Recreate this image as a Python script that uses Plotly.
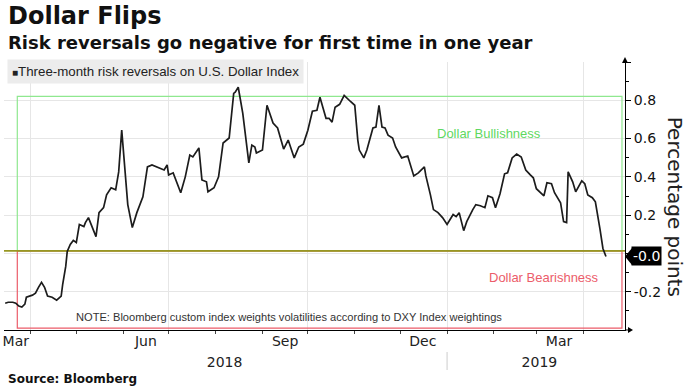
import plotly.graph_objects as go

# ---------------- data ----------------
dates = [
    "2018-03-15", "2018-03-17", "2018-03-20", "2018-03-22", "2018-03-24", "2018-03-26", "2018-03-28", "2018-03-29",
    "2018-04-02", "2018-04-04", "2018-04-06", "2018-04-08", "2018-04-10", "2018-04-12", "2018-04-15", "2018-04-18",
    "2018-04-21", "2018-04-22", "2018-04-24", "2018-04-25", "2018-04-27", "2018-04-29", "2018-05-01", "2018-05-03",
    "2018-05-06", "2018-05-07", "2018-05-09", "2018-05-12", "2018-05-14", "2018-05-16", "2018-05-19", "2018-05-21",
    "2018-05-24", "2018-05-27", "2018-05-29", "2018-05-31", "2018-06-04", "2018-06-07", "2018-06-10", "2018-06-14",
    "2018-06-17", "2018-06-20", "2018-06-28", "2018-06-30", "2018-07-01", "2018-07-04", "2018-07-09", "2018-07-12",
    "2018-07-15", "2018-07-17", "2018-07-21", "2018-07-23", "2018-07-26", "2018-07-27", "2018-07-31", "2018-08-03",
    "2018-08-06", "2018-08-10", "2018-08-13", "2018-08-14", "2018-08-16", "2018-08-19", "2018-08-23", "2018-08-25",
    "2018-08-27", "2018-08-28", "2018-09-01", "2018-09-04", "2018-09-08", "2018-09-11", "2018-09-15", "2018-09-18",
    "2018-09-22", "2018-09-25", "2018-09-28", "2018-10-01", "2018-10-04", "2018-10-07", "2018-10-09", "2018-10-13",
    "2018-10-15", "2018-10-17", "2018-10-19", "2018-10-22", "2018-10-25", "2018-10-29", "2018-11-01", "2018-11-03",
    "2018-11-04", "2018-11-07", "2018-11-09", "2018-11-13", "2018-11-15", "2018-11-17", "2018-11-19", "2018-11-21",
    "2018-11-23", "2018-11-26", "2018-11-28", "2018-12-02", "2018-12-06", "2018-12-10", "2018-12-13", "2018-12-17",
    "2018-12-18", "2018-12-21", "2018-12-23", "2018-12-26", "2018-12-29", "2019-01-01", "2019-01-05", "2019-01-07",
    "2019-01-09", "2019-01-12", "2019-01-14", "2019-01-18", "2019-01-20", "2019-01-23", "2019-01-26", "2019-01-28",
    "2019-01-31", "2019-02-02", "2019-02-05", "2019-02-08", "2019-02-10", "2019-02-13", "2019-02-16", "2019-02-19",
    "2019-02-22", "2019-02-25", "2019-02-27", "2019-03-01", "2019-03-03", "2019-03-06", "2019-03-08", "2019-03-11",
    "2019-03-13", "2019-03-17", "2019-03-19", "2019-03-21", "2019-03-22", "2019-03-25", "2019-03-27", "2019-03-28",
    "2019-03-31", "2019-04-02", "2019-04-04", "2019-04-07", "2019-04-09", "2019-04-12", "2019-04-14", "2019-04-16",
]
values = [
    -0.260, -0.255, -0.255, -0.260, -0.275, -0.280, -0.265, -0.229,
    -0.218, -0.208, -0.177, -0.151, -0.177, -0.223, -0.229, -0.244,
    -0.223, -0.161, -0.068, 0.010, 0.047, 0.068, 0.057, 0.151,
    0.140, 0.161, 0.187, 0.125, 0.088, 0.213, 0.239, 0.306,
    0.343, 0.332, 0.426, 0.644, 0.255, 0.135, 0.213, 0.296,
    0.452, 0.462, 0.436, 0.462, 0.410, 0.421, 0.317, 0.400,
    0.514, 0.504, 0.551, 0.384, 0.374, 0.322, 0.343, 0.400,
    0.577, 0.603, 0.836, 0.842, 0.868, 0.732, 0.473, 0.566,
    0.556, 0.525, 0.540, 0.774, 0.681, 0.655, 0.545, 0.592,
    0.499, 0.556, 0.571, 0.644, 0.743, 0.748, 0.816, 0.706,
    0.706, 0.686, 0.764, 0.779, 0.826, 0.795, 0.774, 0.592,
    0.540, 0.499, 0.540, 0.655, 0.660, 0.774, 0.660, 0.655,
    0.618, 0.603, 0.556, 0.499, 0.509, 0.405, 0.421, 0.452,
    0.405, 0.306, 0.229, 0.213, 0.187, 0.151, 0.203, 0.192,
    0.213, 0.119, 0.166, 0.229, 0.255, 0.249, 0.239, 0.301,
    0.291, 0.239, 0.312, 0.416, 0.421, 0.499, 0.519, 0.504,
    0.436, 0.410, 0.395, 0.338, 0.322, 0.301, 0.369, 0.364,
    0.317, 0.265, 0.166, 0.161, 0.426, 0.374, 0.322, 0.338,
    0.379, 0.364, 0.306, 0.291, 0.270, 0.130, 0.026, -0.016,
]
series_name = "Three-month risk reversals on U.S. Dollar Index"

# zones
bull_level = 0.82
neutral_level = 0.0136
bear_level = -0.39
zone_start = "2018-03-23"
zone_end = "2019-04-26 14:00"

# axes
x_range = ["2018-03-14 05:00", "2019-04-28 14:00"]
y_range = [-0.40, 1.0]
quarter_ticks = ["2018-04-01", "2018-07-01", "2018-10-01", "2019-01-01", "2019-04-01"]
month_starts = ["2018-04-01", "2018-05-01", "2018-06-01", "2018-07-01", "2018-08-01", "2018-09-01",
                "2018-10-01", "2018-11-01", "2018-12-01", "2019-01-01", "2019-02-01", "2019-03-01",
                "2019-04-01"]
month_label_dates = ["2018-03-22", "2018-06-16", "2018-09-16", "2018-12-16", "2019-03-16"]
month_labels = ["Mar", "Jun", "Sep", "Dec", "Mar"]
year_label_dates = ["2018-08-07", "2019-03-03"]
year_labels = ["2018", "2019"]
year_break = "2019-01-01"
y_tick_vals = [-0.2, 0.0, 0.2, 0.4, 0.6, 0.8, 1.0]
y_tick_text = ["-0.2", "", "0.2", "0.4", "0.6", "0.8", ""]
y_minor_vals = [-0.3, -0.1, 0.1, 0.3, 0.5, 0.7, 0.9]

TXT = "DejaVu Sans"
NARROW = "Liberation Sans"
GREEN = "#8fe88f"
GREEN_TXT = "#5fd85f"
RED = "#ec5c6a"
OLIVE = "#979722"
GRID = "#e6e6e6"

fig = go.Figure()
fig.add_trace(go.Scatter(x=dates, y=values, mode="lines", name=series_name,
                         line=dict(color="#1c1c1c", width=1.7), showlegend=False))
# helper traces so the overlay axes (month and year labels) are drawn
fig.add_trace(go.Scatter(x=[x_range[0]], y=[None], xaxis="x2", showlegend=False, hoverinfo="skip"))
fig.add_trace(go.Scatter(x=[x_range[0]], y=[None], xaxis="x3", showlegend=False, hoverinfo="skip"))

shapes = [
    dict(type="rect", xref="x", yref="y", x0=zone_start, x1=zone_end, y0=neutral_level, y1=bull_level,
         line=dict(color=GREEN, width=1.2), layer="between"),
    dict(type="rect", xref="x", yref="y", x0=zone_start, x1=zone_end, y0=bear_level, y1=neutral_level,
         line=dict(color=RED, width=1.2), layer="between"),
    dict(type="line", xref="x", yref="y", x0=x_range[0], x1=x_range[1], y0=neutral_level, y1=neutral_level,
         line=dict(color=OLIVE, width=1.6), layer="between"),
    # year separator below the axis
    dict(type="line", xref="x", yref="paper", ysizemode="pixel", yanchor=0,
         x0=year_break, x1=year_break, y0=-22, y1=-40, line=dict(color="#cccccc", width=1)),
    # arrow at top of y axis
    dict(type="path", xref="paper", yref="paper", xsizemode="pixel", ysizemode="pixel",
         xanchor=1, yanchor=1, path="M-3,-1 L3,-1 L0,5 Z", fillcolor="black", line=dict(width=0)),
    # arrow at right end of x axis
    dict(type="path", xref="paper", yref="paper", xsizemode="pixel", ysizemode="pixel",
         xanchor=1, yanchor=0, path="M0,0.5 L3,0.5 L3,3 L8,0 L3,-3 L3,-0.5 L0,-0.5 Z",
         fillcolor="black", line=dict(width=0)),
    # pointer of the last-value badge
    dict(type="path", xref="paper", yref="y", xsizemode="pixel", ysizemode="pixel",
         xanchor=1, yanchor=values[-1], path="M0,0 L7,8.5 L7,-8.5 Z", fillcolor="black",
         line=dict(width=0)),
]

annotations = [
    dict(text="<b>Dollar Flips</b>", xref="paper", yref="paper", x=0.004, y=1.17, xanchor="left",
         yanchor="middle", showarrow=False, font=dict(family=TXT, size=24, color="#111")),
    dict(text="<b>Risk reversals go negative for first time in one year</b>", xref="paper", yref="paper",
         x=0.004, y=1.073, xanchor="left", yanchor="middle", showarrow=False,
         font=dict(family=TXT, size=18, color="#111")),
    dict(text="<span style='font-size:10px'>■</span>" + series_name, xref="paper", yref="paper",
         x=0.0048, y=0.9646, xanchor="left", yanchor="middle", showarrow=False,
         bgcolor="#ececec", borderpad=4, font=dict(family=NARROW, size=13.3, color="#222")),
    dict(text="Dollar Bullishness", xref="paper", yref="y", x=0.781, y=0.626, xanchor="center",
         yanchor="middle", showarrow=False, font=dict(family=NARROW, size=13, color=GREEN_TXT)),
    dict(text="Dollar Bearishness", xref="paper", yref="y", x=0.869, y=-0.125, xanchor="center",
         yanchor="middle", showarrow=False, font=dict(family=NARROW, size=13, color=RED)),
    dict(text="NOTE: Bloomberg custom index weights volatilities according to DXY Index weightings",
         xref="paper", yref="y", x=0.113, y=-0.331, xanchor="left", yanchor="middle", showarrow=False,
         font=dict(family=NARROW, size=11.1, color="#333")),
    dict(text="Percentage points", xref="paper", yref="paper", x=1.0805, y=0.46, textangle=90,
         xanchor="center", yanchor="middle",
         showarrow=False, font=dict(family=TXT, size=20, color="#222")),
    dict(text=f"{values[-1]:.1f}", xref="paper", yref="y", x=1, xshift=6, y=values[-1],
         xanchor="left", yanchor="middle", showarrow=False, bgcolor="black", borderpad=1,
         font=dict(family=TXT, size=14, color="white")),
    dict(text="<b>Source: Bloomberg</b>", xref="paper", yref="paper", x=0.004, y=-0.183,
         xanchor="left", yanchor="middle", showarrow=False, font=dict(family=TXT, size=12, color="#111")),
]

fig.update_layout(
    width=691, height=391,
    margin=dict(l=4, r=66, t=62, b=61),
    paper_bgcolor="white", plot_bgcolor="white",
    showlegend=False,
    shapes=shapes, annotations=annotations,
    xaxis=dict(type="date", range=x_range, showline=True, linecolor="black", linewidth=1,
               tickmode="array", tickvals=quarter_ticks, ticktext=[""] * len(quarter_ticks),
               showticklabels=False, ticks="outside", ticklen=6, tickcolor="#444",
               showgrid=True, gridcolor=GRID, gridwidth=1, zeroline=False,
               minor=dict(tickmode="array", tickvals=month_starts, ticks="outside", ticklen=3,
                          tickcolor="#444", showgrid=False)),
    xaxis2=dict(type="date", range=x_range, overlaying="x", anchor="y", side="bottom",
                tickmode="array", tickvals=month_label_dates, ticktext=month_labels,
                ticks="", showgrid=False, showline=False, zeroline=False,
                ticklabelstandoff=1, tickfont=dict(family=TXT, size=14, color="#222")),
    xaxis3=dict(type="date", range=x_range, overlaying="x", anchor="y", side="bottom",
                tickmode="array", tickvals=year_label_dates, ticktext=year_labels,
                ticks="", showgrid=False, showline=False, zeroline=False,
                ticklabelstandoff=22, tickfont=dict(family=TXT, size=14, color="#222")),
    yaxis=dict(range=y_range, side="right", showline=True, linecolor="black", linewidth=1,
               tickmode="array", tickvals=y_tick_vals, ticktext=y_tick_text,
               ticks="outside", ticklen=5, tickcolor="black",
               showgrid=True, gridcolor=GRID, gridwidth=1, zeroline=False,
               tickfont=dict(family=TXT, size=14, color="#111"),
               minor=dict(tickmode="array", tickvals=y_minor_vals, ticks="outside", ticklen=3,
                          tickcolor="black", showgrid=False)),
)

fig.write_html("out.html", config={"displayModeBar": False},
               post_script="document.body.style.margin='0';")
